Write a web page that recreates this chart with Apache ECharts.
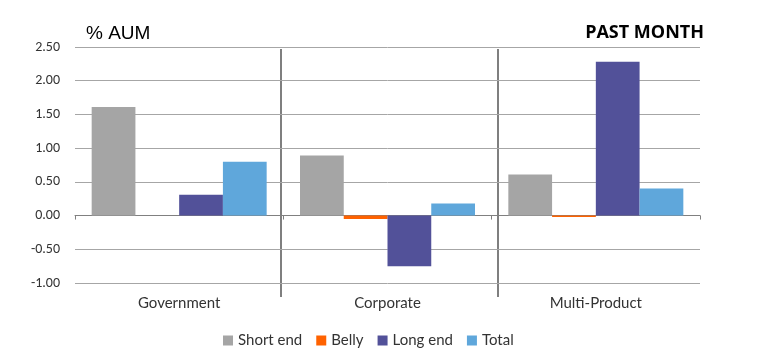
<!DOCTYPE html>
<html><head><meta charset="utf-8">
<script src="https://cdn.jsdelivr.net/npm/echarts@6/dist/echarts.min.js"></script>
<style>html,body{margin:0;padding:0;background:#fff}#c{width:763px;height:364px}</style>
</head><body><div id="c"></div>
<script>
var categories = ['Government', 'Corporate', 'Multi-Product'];
var shortEnd = [1.61, 0.89, 0.61];
var belly = [0, -0.05, -0.02];
var longEnd = [0.31, -0.75, 2.28];
var total = [0.80, 0.18, 0.40];
var yTicks = { min: -1, max: 2.5, interval: 0.5 };

var font = 'Lato, "Open Sans", sans-serif';
var chart = echarts.init(document.getElementById('c'));
function bar(name, data, color) {
  return { name: name, type: 'bar', data: data, itemStyle: { color: color }, barGap: '0%', barCategoryGap: '16%' };
}
chart.setOption({
  animation: false,
  grid: { left: 75, right: 63, top: 47, bottom: 81, containLabel: false, outerBoundsMode: 'none' },
  xAxis: [{
    type: 'category', data: categories,
    axisLine: { onZero: true, lineStyle: { color: '#808080', width: 1 } },
    axisTick: { show: true, length: 4, lineStyle: { color: '#808080' } },
    axisLabel: { show: false }
  }, {
    type: 'category', data: categories, position: 'bottom',
    axisLine: { show: false, onZero: false }, axisTick: { show: false },
    axisLabel: { color: '#333', fontSize: 15, fontFamily: font, margin: 13 }
  }],
  yAxis: {
    type: 'value', min: yTicks.min, max: yTicks.max, interval: yTicks.interval,
    axisLine: { show: false }, axisTick: { show: false },
    axisLabel: { color: '#333', fontSize: 14, fontFamily: 'Carlito, "Liberation Sans", sans-serif', margin: 15,
      formatter: function (v) { return v.toFixed(2); } },
    splitLine: { lineStyle: { color: '#a6a6a6', width: 1 } }
  },
  legend: {
    bottom: 11, left: 218, itemWidth: 10, itemHeight: 10, itemGap: 14,
    icon: 'rect',
    textStyle: { fontSize: 15, color: '#333', fontFamily: font },
    data: ['Short end', 'Belly', 'Long end', 'Total']
  },
  graphic: [
    { type: 'text', left: 86, top: 24, style: { text: '% AUM', fontSize: 19, fill: '#000', fontFamily: '"Liberation Sans", sans-serif' } },
    { type: 'text', right: 59, top: 24, style: { text: 'PAST MONTH', fontSize: 18, fontWeight: 'bold', fill: '#000', fontFamily: '"Open Sans", sans-serif' } },
    { type: 'line', shape: { x1: 281, y1: 49, x2: 281, y2: 297 }, style: { stroke: '#7f7f7f', lineWidth: 2 } },
    { type: 'line', shape: { x1: 498, y1: 49, x2: 498, y2: 297 }, style: { stroke: '#7f7f7f', lineWidth: 2 } }
  ],
  series: [
    bar('Short end', shortEnd, '#a5a5a5'),
    bar('Belly', belly, '#ff6200'),
    bar('Long end', longEnd, '#525199'),
    bar('Total', total, '#5fa7db')
  ]
});
</script></body></html>
